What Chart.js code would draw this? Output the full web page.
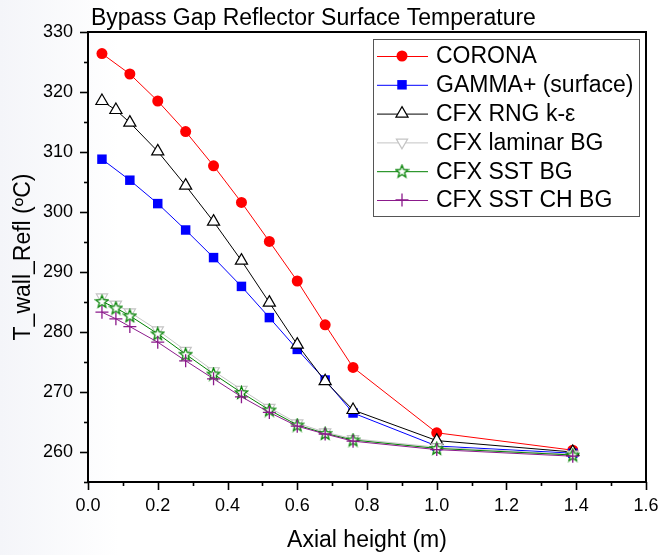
<!DOCTYPE html>
<html>
<head>
<meta charset="utf-8">
<script src="https://cdn.jsdelivr.net/npm/chart.js@4/dist/chart.umd.min.js"></script>
<style>
  html, body { margin: 0; padding: 0; background: #ffffff; }
  #wrap { width: 662px; height: 555px; background: linear-gradient(90deg, #f4f5f9 0%, #ffffff 18%); }
</style>
</head>
<body>
<div id="wrap"><canvas id="chart" width="662" height="555"></canvas></div>
<script>
const chartTitle = 'Bypass Gap Reflector Surface Temperature';
const xLabel = 'Axial height (m)';
const yLabel = 'T_wall_Refl (ºC)';

// axial positions (m)
const xCorona = [0.04, 0.12, 0.2, 0.28, 0.36, 0.44, 0.52, 0.6, 0.68, 0.76, 1.0, 1.39];
const xCfx = [0.04, 0.08, 0.12, 0.2, 0.28, 0.36, 0.44, 0.52, 0.6, 0.68, 0.76, 1.0, 1.39];

// temperatures (degC)
const corona = [326.4, 323.0, 318.5, 313.4, 307.7, 301.6, 295.1, 288.5, 281.2, 274.1, 263.2, 260.3];
const gamma = [308.8, 305.3, 301.4, 297.0, 292.4, 287.6, 282.4, 277.1, 272.0, 266.5, 261.0, 259.8];
const rng = [318.5, 317.0, 314.9, 310.1, 304.4, 298.4, 291.9, 284.9, 277.9, 271.8, 267.0, 261.9, 260.0];
const laminar = [285.8, 284.6, 283.3, 280.3, 276.9, 273.5, 270.4, 267.4, 264.8, 263.3, 262.2, 260.8, 259.6];
const sst = [285.1, 284.0, 282.7, 279.7, 276.3, 273.0, 269.9, 267.0, 264.5, 263.1, 262.0, 260.6, 259.5];
const sstCh = [283.3, 282.2, 280.9, 278.3, 275.2, 272.2, 269.2, 266.6, 264.3, 263.0, 261.8, 260.4, 259.3];

const seriesNames = ['CORONA', 'GAMMA+ (surface)', 'CFX RNG k-ε', 'CFX laminar BG', 'CFX SST BG', 'CFX SST CH BG'];

function pts(xs, ys) {
    return xs.map((x, i) => ({ x: x, y: ys[i] }));
}

// hollow 5 point star for the SST series
function makeStar(color) {
    const c = document.createElement('canvas');
    c.width = 15; c.height = 15;
    const g = c.getContext('2d');
    const cx = 7.5, cy = 8, R = 6.5, r = 2.8;
    g.beginPath();
    for (let k = 0; k < 10; k++) {
        const a = -Math.PI / 2 + k * Math.PI / 5;
        const rr = k % 2 === 0 ? R : r;
        const px = cx + rr * Math.cos(a), py = cy + rr * Math.sin(a);
        if (k === 0) g.moveTo(px, py); else g.lineTo(px, py);
    }
    g.closePath();
    g.fillStyle = '#ffffff';
    g.fill();
    g.lineWidth = 1.3;
    g.strokeStyle = color;
    g.stroke();
    return c;
}
const starImg = makeStar('#008000');

const FONT = "'Liberation Sans', Arial, sans-serif";

const datasets = [
    { label: seriesNames[0], data: pts(xCorona, corona), borderColor: '#ff0000', backgroundColor: '#ff0000',
      pointStyle: 'circle', pointRadius: 5.5, pointBorderWidth: 0 },
    { label: seriesNames[1], data: pts(xCorona, gamma), borderColor: '#0000ff', backgroundColor: '#0000ff',
      pointStyle: 'rect', pointRadius: 6.7, pointBorderWidth: 0 },
    { label: seriesNames[2], data: pts(xCfx, rng), borderColor: '#000000', backgroundColor: '#ffffff',
      pointStyle: 'triangle', pointRadius: 7, pointBorderWidth: 1.2 },
    { label: seriesNames[3], data: pts(xCfx, laminar), borderColor: '#c4c4c4', backgroundColor: '#ffffff',
      pointStyle: 'triangle', pointRotation: 180, pointRadius: 6.5, pointBorderWidth: 1.2 },
    { label: seriesNames[4], data: pts(xCfx, sst), borderColor: '#008000', backgroundColor: '#ffffff',
      pointStyle: starImg, pointRadius: 7, pointBorderWidth: 1 },
    { label: seriesNames[5], data: pts(xCfx, sstCh), borderColor: '#8b1a8b', backgroundColor: '#8b1a8b',
      pointStyle: 'cross', pointRadius: 6.5, pointBorderWidth: 1.3 }
];
datasets.forEach((d, i) => {
    d.borderWidth = 1;
    d.showLine = true;
    d.fill = false;
    d.tension = 0;
    d.order = 10 - i;
});

// frame, tick marks, title and legend box
const decorPlugin = {
    id: 'decor',
    afterDraw(chart) {
        const ctx = chart.ctx;
        const a = chart.chartArea;
        const xs = chart.scales.x, ys = chart.scales.y;
        ctx.save();
        ctx.strokeStyle = '#000';
        ctx.lineWidth = 1.6;
        // y ticks every 5, major every 10
        for (let v = 255; v <= 330; v += 5) {
            const y = Math.round(ys.getPixelForValue(v)) + 0.5;
            const len = v % 10 === 0 ? 8 : 4;
            ctx.beginPath();
            ctx.moveTo(a.left, y);
            ctx.lineTo(a.left - len, y);
            ctx.stroke();
        }
        // x ticks every 0.1, major every 0.2
        for (let k = 0; k <= 16; k++) {
            const x = Math.round(xs.getPixelForValue(k / 10)) + 0.5;
            const len = k % 2 === 0 ? 8 : 4;
            ctx.beginPath();
            ctx.moveTo(x, a.bottom);
            ctx.lineTo(x, a.bottom + len);
            ctx.stroke();
        }
        ctx.lineWidth = 2;
        ctx.strokeRect(a.left, a.top, a.right - a.left, a.bottom - a.top);

        // title
        ctx.fillStyle = '#000';
        ctx.font = '23px ' + FONT;
        ctx.textAlign = 'left';
        ctx.textBaseline = 'alphabetic';
        ctx.fillText(chartTitle, a.left + 3, a.top - 7);

        // legend
        const bx = 373, by = 39, bw = 266, bh = 177;
        ctx.fillStyle = '#ffffff';
        ctx.fillRect(bx, by, bw, bh);
        ctx.lineWidth = 1;
        ctx.strokeStyle = '#555555';
        ctx.strokeRect(bx + 0.5, by + 0.5, bw, bh);
        ctx.font = '23px ' + FONT;
        ctx.textBaseline = 'middle';
        chart.data.datasets.forEach((d, i) => {
            const y = 56 + i * 28.8;
            ctx.strokeStyle = d.borderColor;
            ctx.lineWidth = 1;
            ctx.beginPath();
            ctx.moveTo(377, y + 0.5);
            ctx.lineTo(428, y + 0.5);
            ctx.stroke();
            ctx.fillStyle = d.backgroundColor;
            ctx.strokeStyle = d.borderColor;
            ctx.lineWidth = d.pointBorderWidth;
            Chart.helpers.drawPoint(ctx, {
                pointStyle: d.pointStyle,
                rotation: d.pointRotation || 0,
                radius: d.pointRadius,
                borderWidth: d.pointBorderWidth
            }, 402, y);
            ctx.fillStyle = '#000';
            ctx.fillText(d.label, 436, y + 1);
        });
        ctx.restore();
    }
};

new Chart(document.getElementById('chart'), {
    type: 'scatter',
    data: { datasets: datasets },
    options: {
        responsive: false,
        animation: false,
        layout: { padding: { top: 32, right: 16, left: 0, bottom: 0 } },
        plugins: {
            legend: { display: false },
            title: { display: false },
            tooltip: { enabled: false }
        },
        scales: {
            x: {
                type: 'linear',
                min: 0,
                max: 1.6,
                grid: { display: false, drawTicks: false },
                border: { display: false },
                ticks: {
                    stepSize: 0.2,
                    padding: 13,
                    color: '#000',
                    font: { family: FONT, size: 18 },
                    callback: v => v.toFixed(1)
                },
                title: {
                    display: true,
                    text: xLabel,
                    color: '#000',
                    font: { family: FONT, size: 23 },
                    padding: { top: 1, bottom: 1 }
                },
                afterFit: s => { s.height = 73; s.paddingLeft = 0; s.paddingRight = 0; }
            },
            y: {
                type: 'linear',
                min: 255,
                max: 330,
                grid: { display: false, drawTicks: false },
                border: { display: false },
                ticks: {
                    stepSize: 10,
                    padding: 15,
                    color: '#000',
                    font: { family: FONT, size: 18 },
                    callback: v => (v % 10 === 0 ? String(v) : '')
                },
                title: {
                    display: true,
                    text: yLabel,
                    color: '#000',
                    font: { family: FONT, size: 23 },
                    padding: { top: 10, bottom: 0 }
                },
                afterFit: s => { s.width = 88; s.paddingTop = 0; s.paddingBottom = 0; }
            }
        }
    },
    plugins: [decorPlugin]
});
</script>
</body>
</html>
